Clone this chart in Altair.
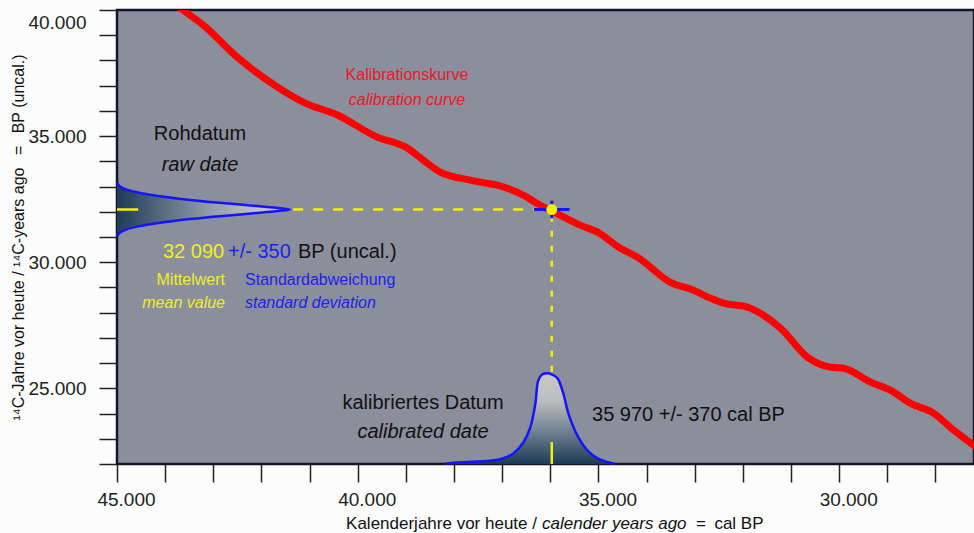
import altair as alt
import pandas as pd

FONT = "Liberation Sans, Arial, sans-serif"

# ---------------- data ----------------
# calibration curve (cal BP, 14C BP)
curve_cal = [43900, 43630, 43210, 42505, 41880, 41135, 40425, 39595, 38970, 38640,
             38285, 37660, 37455, 37100, 36560, 36205, 36000, 35375, 35020, 34545,
             34190, 33505, 33025, 32670, 32400, 31900, 31570, 31215, 30655, 30175,
             29905, 29345, 28930, 28515, 28035, 27620, 27205, 26850]
curve_c14 = [40400, 40000, 39405, 38135, 37220, 36350, 35835, 34960, 34525, 34050,
             33570, 33255, 33175, 33055, 32660, 32260, 32065, 31470, 31190, 30555,
             30200, 29205, 28890, 28570, 28375, 28215, 27895, 27380, 26230, 25835,
             25795, 25240, 24920, 24405, 24010, 23335, 22740, 22220]

# raw date distribution (drawn sideways on the 14C axis)
raw_c14 = [31020, 31140, 31295, 31455, 31615, 31715, 31790, 31890, 31970, 32030, 32090,
           32150, 32210, 32290, 32390, 32465, 32565, 32725, 32885, 33040, 33160]
raw_cal = [45000, 44958, 44813, 44459, 43898, 43482, 43067, 42443, 41985, 41653, 41403,
           41653, 41985, 42443, 43067, 43482, 43898, 44459, 44813, 44958, 45000]

# calibrated date distribution
calib_cal = [38180, 37870, 37040, 36770, 36560, 36415, 36310, 36250, 36170, 36060,
             35965, 35850, 35730, 35625, 35440, 35230, 35020, 34800, 34660]
calib_c14 = [22010, 22065, 22185, 22420, 22855, 23450, 24405, 25315, 25545, 25595,
             25545, 25395, 24800, 24010, 23135, 22540, 22220, 22070, 22010]

raw_mean, raw_sd = 32090, 350
cal_mean, cal_sd = 35970, 370

X_MIN, X_MAX = 27200, 45000
Y_MIN, Y_MAX = 22000, 40000
x_ticks = list(range(45000, 27999, -1000))
y_ticks = list(range(22000, 40001, 1000))

# ---------------- scales / axes ----------------
LABEL_EXPR = "datum.value % 5000 == 0 ? replace(format(datum.value, ','), ',', '.') : ''"
xscale = alt.Scale(domain=[X_MIN, X_MAX], reverse=True, nice=False, zero=False)
yscale = alt.Scale(domain=[Y_MIN, Y_MAX], nice=False, zero=False)
xaxis = alt.Axis(values=x_ticks, labelExpr=LABEL_EXPR, tickSize=18, tickWidth=1.5,
                 tickColor="#222222", labelPadding=8, labelOffset=9, labelFont=FONT,
                 labelFontSize=19, labelColor="#222222", domain=False, grid=False,
                 labelOverlap=False, labelFlush=False, title=None)
yaxis = alt.Axis(values=y_ticks, labelExpr=LABEL_EXPR, tickSize=18, tickWidth=1.5,
                 tickColor="#222222", labelPadding=13, labelFont=FONT,
                 labelFontSize=19, labelColor="#222222", domain=False, grid=False,
                 labelOverlap=False, labelFlush=True, labelFlushOffset=-3,
                 title="¹⁴C-Jahre vor heute / ¹⁴C-years ago \u2002=\u2002 BP (uncal.)",
                 titleFont=FONT, titleFontSize=16, titleFontWeight="normal",
                 titleColor="#111111", titleX=-99, titleY=227, titleAngle=270,
                 titleBaseline="middle", titleAlign="center")


def X(field):
    return alt.X(field, type="quantitative", scale=xscale, axis=xaxis)


def Y(field):
    return alt.Y(field, type="quantitative", scale=yscale, axis=yaxis)


# ---------------- tables ----------------
curve_df = pd.DataFrame({"cal": curve_cal, "c14": curve_c14})
raw_df = pd.DataFrame({"cal": raw_cal, "c14": raw_c14, "base": [X_MAX] * len(raw_cal),
                       "idx": list(range(len(raw_cal)))})
calib_df = pd.DataFrame({"cal": calib_cal, "c14": calib_c14, "base": [Y_MIN] * len(calib_cal)})

YELLOW = "#f2f200"
BLUE = "#1414ff"

# guides
h_dash = pd.DataFrame({"cal": [raw_cal[10] - 60, cal_mean], "c14": [raw_mean, raw_mean]})
v_dash = pd.DataFrame({"cal": [cal_mean, cal_mean], "c14": [raw_mean - 250, 25650]})
h_solid = pd.DataFrame({"cal": [45000, 44560], "c14": [raw_mean, raw_mean]})
v_solid = pd.DataFrame({"cal": [cal_mean, cal_mean], "c14": [Y_MIN, 22870]})
err_h = pd.DataFrame({"cal": [cal_mean + cal_sd, cal_mean - cal_sd], "c14": [raw_mean, raw_mean]})
err_v = pd.DataFrame({"cal": [cal_mean, cal_mean], "c14": [raw_mean - raw_sd, raw_mean + raw_sd]})
pt = pd.DataFrame({"cal": [cal_mean], "c14": [raw_mean]})

raw_grad = alt.Gradient(gradient="linear", x1=0, x2=1, y1=0, y2=0, stops=[
    alt.GradientStop(color="#1f3b58", offset=0),
    alt.GradientStop(color="#8a97a2", offset=0.5),
    alt.GradientStop(color="#bfc0c2", offset=0.8),
    alt.GradientStop(color="#c8c8c8", offset=1)])
cal_grad = alt.Gradient(gradient="linear", x1=0, x2=0, y1=0, y2=1, stops=[
    alt.GradientStop(color="#c8c8c8", offset=0),
    alt.GradientStop(color="#bcbdbf", offset=0.3),
    alt.GradientStop(color="#6e8090", offset=0.65),
    alt.GradientStop(color="#1d3a55", offset=1)])


def seg(df, color, width, dash=None):
    kw = dict(color=color, strokeWidth=width)
    if dash:
        kw["strokeDash"] = dash
    return alt.Chart(df).mark_line(**kw).encode(x=X("cal"), y=Y("c14"))


h_dash_l = seg(h_dash, YELLOW, 2.5, [10, 10])
v_dash_l = alt.Chart(v_dash).mark_line(color=YELLOW, strokeWidth=2.5, strokeDash=[6, 9]).encode(
    x=X("cal"), y=Y("c14"), order=alt.Order("c14:Q", sort="descending"))

raw_area = alt.Chart(raw_df).mark_area(orient="horizontal", fill=raw_grad, interpolate="catmull-rom").encode(
    y=Y("c14"), x=X("cal"), x2="base:Q")
raw_line = alt.Chart(raw_df).mark_line(color=BLUE, strokeWidth=2.5, interpolate="catmull-rom").encode(
    x=X("cal"), y=Y("c14"), order="idx:Q")

calib_area = alt.Chart(calib_df).mark_area(fill=cal_grad, interpolate="catmull-rom").encode(
    x=X("cal"), y=Y("c14"), y2="base:Q")
calib_line = alt.Chart(calib_df).mark_line(color=BLUE, strokeWidth=2.5, interpolate="catmull-rom").encode(
    x=X("cal"), y=Y("c14"))

h_solid_l = seg(h_solid, YELLOW, 2.5)
v_solid_l = alt.Chart(v_solid).mark_line(color=YELLOW, strokeWidth=2.5).encode(
    x=X("cal"), y=Y("c14"), order="c14:Q")

curve = alt.Chart(curve_df).mark_line(color="#ff0000", strokeWidth=7, clip=True, interpolate="monotone").encode(
    x=X("cal"), y=Y("c14"))

err_h_l = seg(err_h, BLUE, 3)
err_v_l = alt.Chart(err_v).mark_line(color=BLUE, strokeWidth=3).encode(x=X("cal"), y=Y("c14"), order="c14:Q")
point = alt.Chart(pt).mark_point(filled=True, shape="circle", size=120, color="#f0f000", opacity=1).encode(
    x=X("cal"), y=Y("c14"))


def label(text, cal, c14, color, size, align="center", italic=False):
    df = pd.DataFrame({"cal": [cal], "c14": [c14], "text": [text]})
    return alt.Chart(df).mark_text(font=FONT, fontSize=size, color=color, align=align,
                                   baseline="middle",
                                   fontStyle="italic" if italic else "normal").encode(
        x=X("cal"), y=Y("c14"), text="text:N")


TXT = "#111111"
RED_T = "#e8182c"
YEL_T = "#eeee2a"
BLU_T = "#2222ee"

labels = [
    label("Kalibrationskurve", 38977, 37423, RED_T, 16),
    label("calibration curve", 38977, 36432, RED_T, 16, italic=True),
    label("Rohdatum", 43276, 35084, TXT, 20),
    label("raw date", 43276, 33855, TXT, 20, italic=True),
    label("32 090", 44045, 30405, YEL_T, 20, align="left"),
    label("+/- 350", 42695, 30405, BLU_T, 20, align="left"),
    label("BP (uncal.)", 41241, 30405, TXT, 20, align="left"),
    label("Mittelwert", 42757, 29295, YEL_T, 16, align="right"),
    label("mean value", 42757, 28383, YEL_T, 16, align="right", italic=True),
    label("Standardabweichung", 42341, 29295, BLU_T, 16, align="left"),
    label("standard deviation", 42341, 28383, BLU_T, 16, align="left", italic=True),
    label("kalibriertes Datum", 38644, 24419, TXT, 20),
    label("calibrated date", 38644, 23268, TXT, 20, italic=True),
    label("35 970 +/- 370 cal BP", 35134, 23943, TXT, 20, align="left"),
    label("Kalenderjahre vor heute /", 36277, 19620, TXT, 17, align="right"),
    label("calender years ago", 36173, 19620, TXT, 17, align="left", italic=True),
    label("=\u2002cal BP", 32975, 19620, TXT, 17, align="left"),
]

chart = alt.layer(
    h_dash_l, v_dash_l, raw_area, raw_line, calib_area, calib_line,
    h_solid_l, v_solid_l, curve, err_h_l, err_v_l, point, *labels
).properties(
    width=857, height=454,
    autosize=alt.AutoSizeParams(type="none"),
    padding={"left": 117, "top": 10, "right": 0, "bottom": 69},
    background="#fcfcfc",
).configure_view(fill="#8a8f9b", stroke="#14142c", strokeWidth=2.5)

chart.save("out.html", embed_options={"renderer": "svg", "actions": False})
